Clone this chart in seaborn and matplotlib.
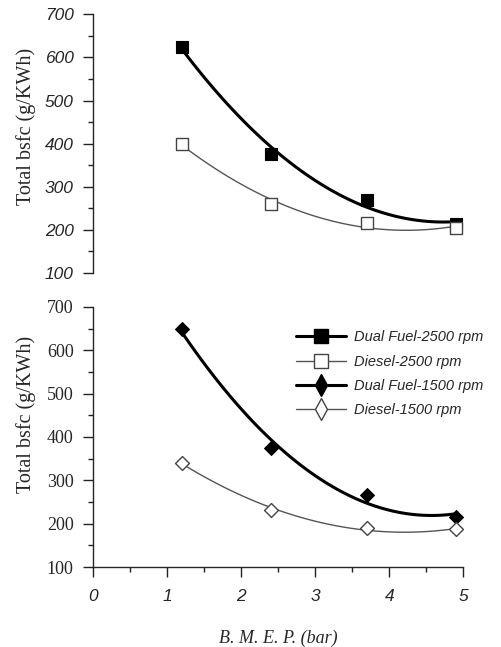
import matplotlib
matplotlib.use("Agg")
import matplotlib.pyplot as plt
import seaborn as sns
from matplotlib.lines import Line2D
from matplotlib.ticker import MultipleLocator

# B.M.E.P. (bar) and total bsfc (g/KWh)
bmep = [1.2, 2.4, 3.7, 4.9]
dual_fuel_2500 = [625, 375, 270, 213]
diesel_2500 = [400, 260, 216, 205]
dual_fuel_1500 = [648, 374, 267, 216]
diesel_1500 = [340, 232, 190, 187]

labels = ["Dual Fuel-2500 rpm", "Diesel-2500 rpm",
          "Dual Fuel-1500 rpm", "Diesel-1500 rpm"]

sns.set_style("ticks")
plt.rcParams["font.family"] = ["Liberation Sans", "DejaVu Sans"]

fig = plt.figure(figsize=(5.01, 6.47), dpi=100)
ax_top = fig.add_axes([0.186, 0.578, 0.739, 0.400])
ax_bot = fig.add_axes([0.186, 0.1236, 0.739, 0.402])

thick = dict(color="black", lw=2.2)
thin = dict(color="#555555", lw=1.0)


def draw(ax, y, marker, filled, size):
    sns.regplot(x=bmep, y=y, order=2, ci=None, scatter=False, ax=ax,
                line_kws=thick if filled else thin)
    if filled:
        sns.scatterplot(x=bmep, y=y, marker=marker, s=size, color="black",
                        edgecolor="black", linewidth=0.8, ax=ax, zorder=3)
    else:
        sns.scatterplot(x=bmep, y=y, marker=marker, s=size, facecolor="white",
                        edgecolor="#444444", linewidth=1.0, ax=ax, zorder=3)


draw(ax_top, dual_fuel_2500, "s", True, 75)
draw(ax_top, diesel_2500, "s", False, 70)
draw(ax_bot, dual_fuel_1500, "D", True, 50)
draw(ax_bot, diesel_1500, "D", False, 50)

for ax in (ax_top, ax_bot):
    ax.set_xlim(0, 5)
    ax.set_ylim(100, 700)
    ax.yaxis.set_major_locator(MultipleLocator(100))
    ax.yaxis.set_minor_locator(MultipleLocator(50))
    ax.xaxis.set_major_locator(MultipleLocator(1))
    ax.xaxis.set_minor_locator(MultipleLocator(0.5))
    ax.tick_params(axis="both", which="major", direction="out", length=7,
                   width=1, pad=7, color="#222222")
    ax.tick_params(axis="both", which="minor", direction="out", length=3.5,
                   width=1, color="#222222")
    for s in ("top", "right"):
        ax.spines[s].set_visible(False)
    ax.spines["left"].set_linewidth(1.0)
    ax.spines["bottom"].set_linewidth(1.0)
    ax.set_ylabel("Total bsfc (g/KWh)", family="Liberation Serif", fontsize=14.5)
    ax.set_facecolor("white")

ax_top.yaxis.set_label_coords(-0.155, 0.565)
ax_bot.yaxis.set_label_coords(-0.155, 0.585)

# top panel: no x axis, italic sans y tick labels
ax_top.spines["bottom"].set_visible(False)
ax_top.tick_params(axis="x", which="both", bottom=False, labelbottom=False)
for t in ax_top.get_yticklabels():
    t.set_fontstyle("italic")
    t.set_fontsize(12.5)

# bottom panel: serif y tick labels, italic sans x tick labels
for t in ax_bot.get_yticklabels():
    t.set_family("Liberation Serif")
    t.set_fontsize(13)
for t in ax_bot.get_xticklabels():
    t.set_fontstyle("italic")
    t.set_fontsize(12.5)
ax_bot.tick_params(axis="x", which="major", pad=9)
ax_bot.set_xlabel("B. M. E. P. (bar)", family="Liberation Serif",
                  style="italic", fontsize=13)
ax_bot.xaxis.set_label_coords(0.5, -0.24)

handles = [
    Line2D([], [], marker="s", markersize=10, markerfacecolor="black",
           markeredgecolor="black", **thick),
    Line2D([], [], marker="s", markersize=9.5, markerfacecolor="white",
           markeredgecolor="#444444", **thin),
    Line2D([], [], marker="d", markersize=11, markerfacecolor="black",
           markeredgecolor="black", **thick),
    Line2D([], [], marker="d", markersize=11, markerfacecolor="white",
           markeredgecolor="#444444", **thin),
]
leg = ax_bot.legend(handles, labels, loc="upper right", frameon=False,
                    handlelength=3.4, handletextpad=0.6, labelspacing=0.7,
                    prop=dict(family="Liberation Sans", style="italic", size=10.5),
                    bbox_to_anchor=(1.09, 0.96))

fig.savefig("out.png", dpi=100, facecolor="white")
